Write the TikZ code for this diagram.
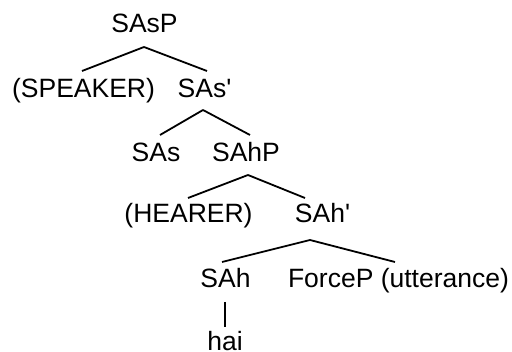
\documentclass[tikz,border=0pt]{standalone}
\usepackage{fontspec}
\setmainfont{Liberation Sans}
\tikzset{
  lbl/.style={anchor=base, inner sep=0pt, font=\fontsize{26.5}{31}\selectfont},
  branch/.style={line width=1.8pt, black}
}
\begin{document}
\begin{tikzpicture}[x=1pt,y=-1pt]
\useasboundingbox[fill=white] (0,0) rectangle (512,352);
\node[lbl] (sasp)   at (144.5,32.5) {SAsP};
\node[lbl] (spk)    at (83.5,98)   {(SPEAKER)};
\node[lbl] (sasq)   at (204.5,98)  {SAs\textquotesingle};
\node[lbl] (sas)    at (156,161.5) {SAs};
\node[lbl] (sahp)   at (246,161.5) {SAhP};
\node[lbl] (hearer) at (188.5,222.5) {(HEARER)};
\node[lbl] (sahq)   at (322.5,222.5) {SAh\textquotesingle};
\node[lbl] (sah)    at (225.5,288) {SAh};
\node[lbl] (force)  at (398.5,288) {ForceP (utterance)};
\node[lbl] (hai)    at (225,351)   {hai};
\draw[branch] ([shift={(-0.5,14.5)}]sasp.base) -- ([shift={(-1.5,-27)}]spk.base);
\draw[branch] ([shift={(-0.5,14.5)}]sasp.base) -- ([shift={(2.5,-27)}]sasq.base);
\draw[branch] ([shift={(-1.5,12)}]sasq.base) -- ([shift={(4,-26.5)}]sas.base);
\draw[branch] ([shift={(-1.5,12)}]sasq.base) -- ([shift={(4,-26.5)}]sahp.base);
\draw[branch] ([shift={(2,13.5)}]sahp.base) -- ([shift={(-0.5,-24.5)}]hearer.base);
\draw[branch] ([shift={(2,13.5)}]sahp.base) -- ([shift={(-17.5,-24.5)}]sahq.base);
\draw[branch] ([shift={(-12.5,17.5)}]sahq.base) -- ([shift={(-3.5,-26)}]sah.base);
\draw[branch] ([shift={(-12.5,17.5)}]sahq.base) -- ([shift={(-3.5,-26)}]force.base);
\draw[branch] ([shift={(-0.5,14)}]sah.base) -- ([shift={(0,-24)}]hai.base);
\end{tikzpicture}
\end{document}
